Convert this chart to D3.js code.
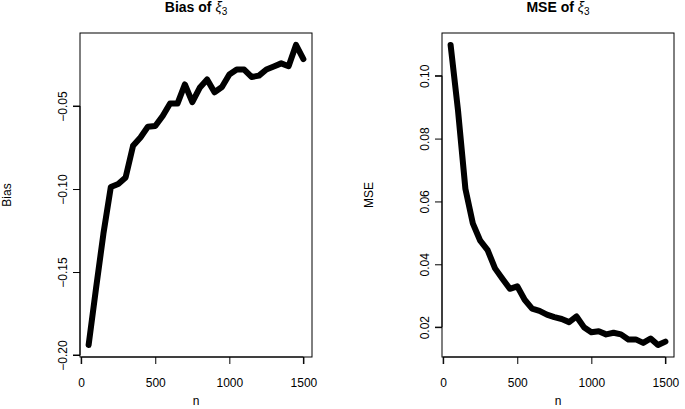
<!DOCTYPE html><html><head><script src="https://cdn.jsdelivr.net/npm/d3@7"></script>
<style>body{margin:0;background:#fff}text{font-family:"Liberation Sans",Arial,sans-serif}</style></head><body>
<svg id="c" width="685" height="409"></svg>
<script>
const n = d3.range(50,1501,50);
const bias = [-0.194,-0.160,-0.127,-0.0988,-0.097,-0.093,-0.074,-0.069,-0.0625,-0.062,-0.056,-0.0485,-0.0485,-0.037,-0.0477,-0.039,-0.034,-0.0417,-0.0385,-0.031,-0.028,-0.028,-0.0325,-0.0317,-0.028,-0.0262,-0.0243,-0.026,-0.0132,-0.0217];
const mse = [0.1098,0.089,0.064,0.053,0.0475,0.0445,0.0387,0.0354,0.0322,0.0330,0.0287,0.0259,0.0252,0.0240,0.0232,0.0226,0.0216,0.0234,0.0200,0.0184,0.0187,0.0177,0.0182,0.0177,0.0161,0.0161,0.0150,0.0164,0.0143,0.0154];
const xTicks = [0,500,1000,1500];
const biasTicks = [-0.20,-0.15,-0.10,-0.05];
const mseTicks = [0.02,0.04,0.06,0.08,0.10];
const svg = d3.select("#c");
function panel(x0,x1,vals,ydom,ticks,fmt,title,ylab){
  const top=33,bot=357;
  const x=d3.scaleLinear().domain([-8,1558]).range([x0,x1]);
  const y=d3.scaleLinear().domain(ydom).range([bot,top]);
  svg.append("rect").attr("x",x0).attr("y",top).attr("width",x1-x0).attr("height",bot-top).attr("fill","none").attr("stroke","#000");
  const gx=svg.append("g").attr("transform",`translate(0,${bot})`).call(d3.axisBottom(x).tickValues(xTicks).tickSize(7).tickPadding(14).tickFormat(d3.format("d")));
  gx.select(".domain").attr("d",`M${x(0)},7V0H${x(1500)}V7`);
  gx.selectAll("text").attr("font-size",12).attr("fill","#000");
  const gy=svg.append("g").attr("transform",`translate(${x0},0)`).call(d3.axisLeft(y).tickValues(ticks).tickSize(7).tickFormat(fmt));
  gy.select(".domain").attr("d",`M-7,${y(ticks[0])}H0V${y(ticks[ticks.length-1])}H-7`);
  gy.selectAll("text").attr("font-size",12).attr("fill","#000").attr("text-anchor","middle").attr("x",0).attr("y",0).attr("dy",0)
    .attr("transform","translate(-13,0) rotate(-90)");
  svg.append("path").datum(vals).attr("fill","none").attr("stroke","#000").attr("stroke-width",6).attr("stroke-linejoin","round").attr("stroke-linecap","round")
    .attr("d",d3.line().x((d,i)=>x(n[i])).y(d=>y(d)));
  const t=svg.append("text").attr("x",(x0+x1)/2).attr("y",12).attr("text-anchor","middle").attr("font-size",14).attr("font-weight","bold").text(title+" of  ");
  t.append("tspan").attr("font-style","italic").attr("font-weight","normal").text("ξ");
  t.append("tspan").attr("font-size",10).attr("font-weight","normal").attr("dy",3).text("3");
  svg.append("text").attr("x",(x0+x1)/2).attr("y",405).attr("text-anchor","middle").attr("font-size",12).text("n");
  svg.append("text").attr("transform",`translate(${x0-69},${(top+bot)/2}) rotate(-90)`).attr("text-anchor","middle").attr("font-size",12).text(ylab);
}
panel(80,312,bias,[-0.2012,-0.0060],biasTicks,d3.format(".2f"),"Bias","Bias");
panel(442,674,mse,[0.0105,0.1136],mseTicks,d3.format(".2f"),"MSE","MSE");
</script></body></html>
